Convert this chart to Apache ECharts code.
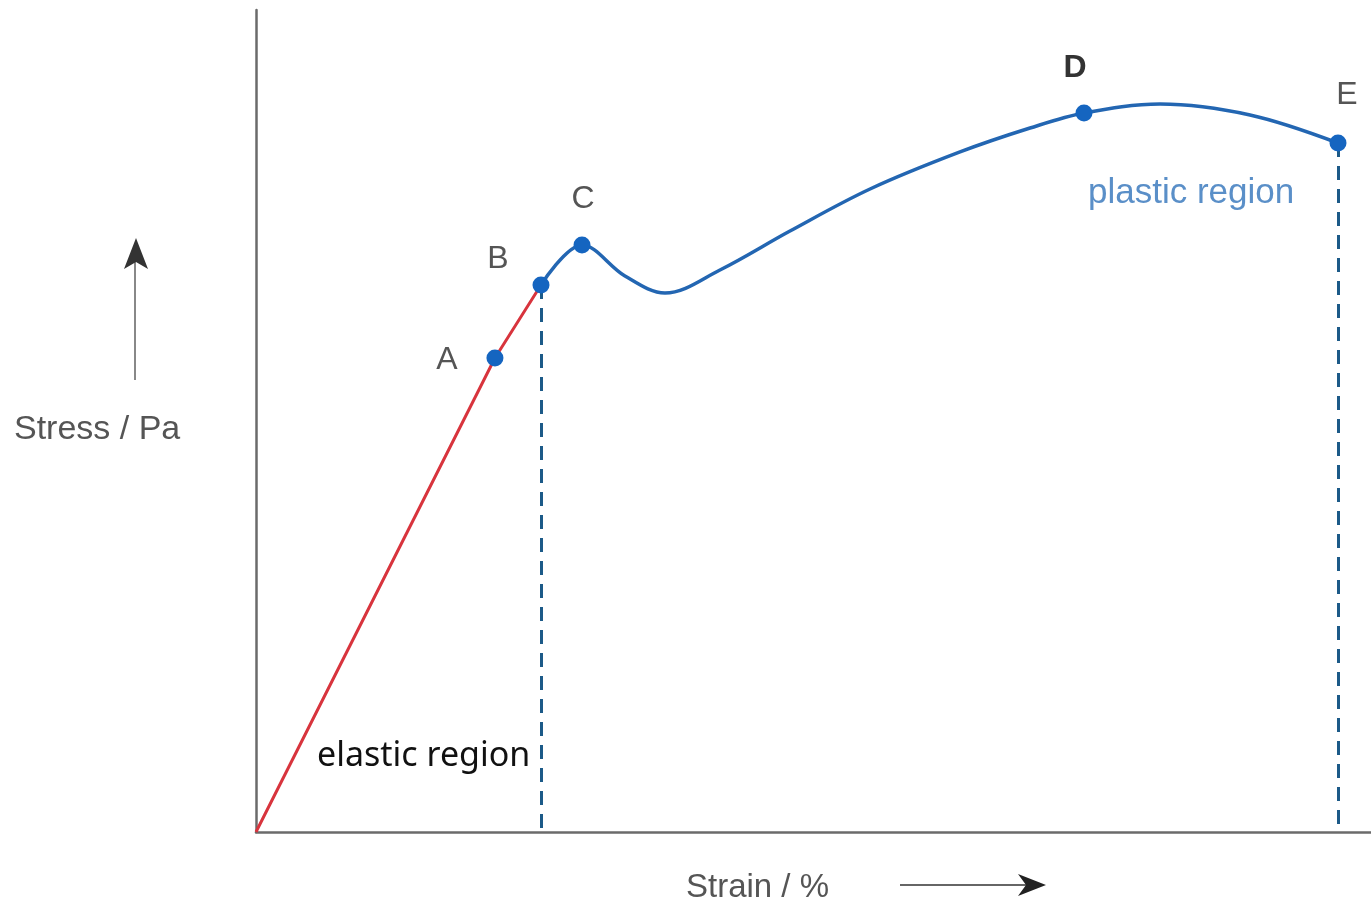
<!DOCTYPE html>
<html>
<head>
<meta charset="utf-8">
<script src="https://cdn.jsdelivr.net/npm/echarts@6/dist/echarts.min.js"></script>
<style>
html,body{margin:0;padding:0;background:#fff;}
#chart{width:1371px;height:908px;}
</style>
</head>
<body>
<div id="chart"></div>
<script>
// ---- data (strain %, stress, arbitrary units 0..100) ----
const elasticStrain = [0, 21.43, 25.56];
const elasticStress = [0, 57.66, 66.55];

const plasticStrain = [25.56, 29.24, 33.09, 36.68, 41.61, 47.89, 55.07, 63.14, 69.42, 74.26, 81.08, 89.15, 97.04];
const plasticStress = [66.55, 71.41, 67.64, 65.57, 68.37, 73.11, 78.22, 82.73, 85.64, 87.47, 88.56, 87.23, 83.82];

const pointNames = ['A', 'B', 'C', 'D', 'E'];
const pointStrain = [21.43, 25.56, 29.24, 74.26, 97.04];
const pointStress = [57.66, 66.55, 71.41, 87.47, 83.82];

// label offsets (style only)
const labelOffsets = [[-48, 2], [-43, -26], [1, -46], [-9, -45], [9, -48]];

const chart = echarts.init(document.getElementById('chart'), null, {renderer: 'canvas'});

const zip = (xs, ys) => xs.map((x, i) => [x, ys[i]]);

const axisLineStyle = {show: true, lineStyle: {color: '#6b6b6b', width: 2.5}};

const option = {
  backgroundColor: '#ffffff',
  animation: false,
  grid: {left: 256, right: 0, top: 10, bottom: 76},
  xAxis: {
    type: 'value', min: 0, max: 100,
    axisLine: axisLineStyle, axisTick: {show: false}, axisLabel: {show: false}, splitLine: {show: false}
  },
  yAxis: {
    type: 'value', min: 0, max: 100,
    axisLine: axisLineStyle, axisTick: {show: false}, axisLabel: {show: false}, splitLine: {show: false}
  },
  series: [
    {
      name: 'elastic', type: 'line', data: zip(elasticStrain, elasticStress),
      symbol: 'none', lineStyle: {color: '#d8343d', width: 3}, z: 3
    },
    {
      name: 'plastic', type: 'line', data: zip(plasticStrain, plasticStress),
      symbol: 'none', smooth: 0.35,
      lineStyle: {color: '#2366b2', width: 3.5}, z: 3,
      markLine: {
        silent: true, symbol: 'none', label: {show: false},
        lineStyle: {color: '#1c5a88', width: 3, type: [14, 9]},
        data: [
          [{coord: [pointStrain[1], pointStress[1]]}, {coord: [pointStrain[1], 0]}],
          [{coord: [pointStrain[4], pointStress[4]]}, {coord: [pointStrain[4], 0]}]
        ]
      }
    },
    {
      name: 'points', type: 'scatter', z: 5,
      symbolSize: 17,
      itemStyle: {color: '#1565c0', opacity: 1},
      data: pointNames.map((n, i) => ({
        name: n, value: [pointStrain[i], pointStress[i]],
        label: {
          show: true, formatter: n, position: 'inside', offset: labelOffsets[i],
          color: i === 3 ? '#333333' : '#555555',
          fontWeight: i === 3 ? 'bold' : 'normal',
          fontFamily: 'Liberation Sans, Arial, sans-serif', fontSize: 32
        }
      }))
    }
  ],
  graphic: [
    // y axis title + arrow
    {type: 'text', left: 14, top: 413, style: {text: 'Stress / Pa', fill: '#555', font: '34px "Liberation Sans", Arial, sans-serif'}},
    {type: 'line', shape: {x1: 135, y1: 380, x2: 135, y2: 262}, style: {stroke: '#888', lineWidth: 2}},
    {type: 'polygon', shape: {points: [[136, 238], [124, 269], [136, 262], [148, 269]]}, style: {fill: '#333'}},
    // x axis title + arrow
    {type: 'text', left: 686, top: 871, style: {text: 'Strain / %', fill: '#555', font: '33px "Liberation Sans", Arial, sans-serif'}},
    {type: 'line', shape: {x1: 900, y1: 885, x2: 1030, y2: 885}, style: {stroke: '#666', lineWidth: 2}},
    {type: 'polygon', shape: {points: [[1046, 885], [1018, 874], [1026, 885], [1018, 896]]}, style: {fill: '#222'}},
    // region labels
    {type: 'text', left: 1088, top: 176, style: {text: 'plastic region', fill: '#5a8fc8', font: '35px "Liberation Sans", Arial, sans-serif'}},
    {type: 'text', left: 317, top: 739, style: {text: 'elastic region', fill: '#111', font: '34px "Noto Sans", "Open Sans", sans-serif'}}
  ]
};

chart.setOption(option);
</script>
</body>
</html>
